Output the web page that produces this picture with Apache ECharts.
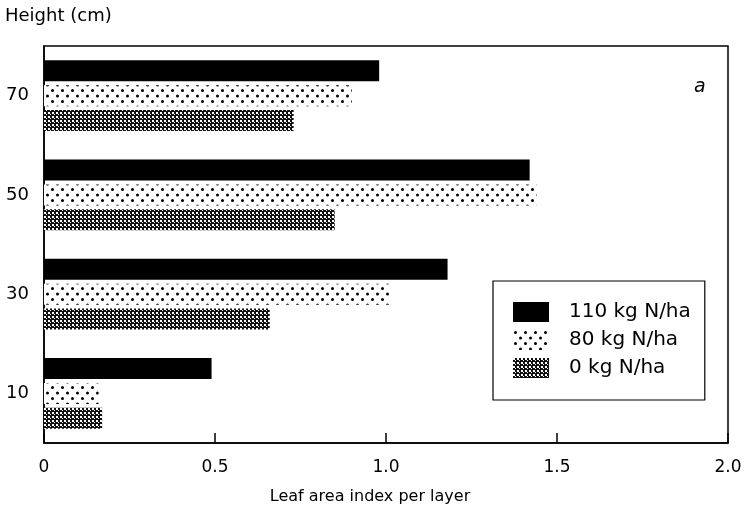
<!DOCTYPE html>
<html>
<head>
<meta charset="utf-8">
<script src="https://cdn.jsdelivr.net/npm/echarts@6/dist/echarts.min.js"></script>
<style>
  html, body { margin: 0; padding: 0; background: #fff; }
  #chart { width: 747px; height: 510px; }
</style>
</head>
<body>
<div id="chart"></div>
<script>
const heights = ['10', '30', '50', '70'];
const n110 = [0.49, 1.18, 1.42, 0.98];
const n80 = [0.16, 1.01, 1.44, 0.90];
const n0 = [0.17, 0.66, 0.85, 0.73];
const xTicks = ['0', '0.5', '1.0', '1.5', '2.0'];

const FONT = '"DejaVu Sans", sans-serif';

// sparse staggered dots
function dotPattern() {
  const c = document.createElement('canvas');
  c.width = 10; c.height = 11;
  const ctx = c.getContext('2d');
  ctx.fillStyle = '#fff';
  ctx.fillRect(0, 0, 10, 11);
  ctx.fillStyle = '#000';
  ctx.beginPath();
  ctx.arc(2.5, 2.5, 1.5, 0, Math.PI * 2);
  ctx.arc(7.5, 8, 1.5, 0, Math.PI * 2);
  ctx.fill();
  return c;
}

// dense dark checker
function checkPattern() {
  const c = document.createElement('canvas');
  c.width = 4; c.height = 4;
  const ctx = c.getContext('2d');
  ctx.fillStyle = '#111';
  ctx.fillRect(0, 0, 4, 4);
  ctx.fillStyle = '#fff';
  ctx.fillRect(0, 0, 2, 2);
  ctx.fillRect(2, 2, 1, 1);
  return c;
}

const chart = echarts.init(document.getElementById('chart'));

const barBase = { type: 'bar', barWidth: 21, barGap: '18%', barCategoryGap: '30%' };

chart.setOption({
  animation: false,
  textStyle: { fontFamily: FONT, color: '#000' },
  grid: {
    left: 44, right: 19, top: 46, bottom: 67,
    show: true, borderColor: '#000', borderWidth: 1.5
  },
  legend: {
    orient: 'vertical',
    left: 493, top: 281,
    padding: [21, 14, 22, 20],
    borderColor: '#000', borderWidth: 1.2,
    itemWidth: 36, itemHeight: 20, itemGap: 8,
    icon: 'rect',
    data: ['110 kg N/ha', '80 kg N/ha', '0 kg N/ha'],
    textStyle: { fontSize: 20, fontFamily: FONT, color: '#000', padding: [0, 0, 0, 15] }
  },
  xAxis: {
    type: 'value',
    min: 0, max: 2, interval: 0.5,
    name: 'Leaf area index per layer',
    nameLocation: 'middle',
    nameGap: 46,
    nameTextStyle: { fontSize: 16, fontFamily: FONT, color: '#000', padding: [0, 32, 0, 0] },
    axisLine: { show: true, lineStyle: { color: '#000', width: 1.5 } },
    axisTick: { show: true, inside: true, length: 10, lineStyle: { color: '#000', width: 1.5 } },
    axisLabel: {
      fontSize: 17, color: '#000', fontFamily: FONT, margin: 16,
      formatter: (v) => xTicks[Math.round(v / 0.5)]
    },
    splitLine: { show: false }
  },
  yAxis: {
    type: 'category',
    data: heights,
    axisLine: { show: true, lineStyle: { color: '#000', width: 1.5 } },
    axisTick: { show: false },
    axisLabel: { fontSize: 18, color: '#000', fontFamily: FONT, margin: 15 },
    splitLine: { show: false }
  },
  graphic: [
    {
      type: 'text', left: 5, top: 7,
      style: { text: 'Height (cm)', fontSize: 18, fontFamily: FONT, fill: '#000' }
    },
    {
      type: 'text', left: 694, top: 78,
      style: { text: 'a', fontSize: 19, fontStyle: 'italic', fontFamily: FONT, fill: '#000' }
    }
  ],
  series: [
    Object.assign({}, barBase, {
      name: '110 kg N/ha', data: n110,
      itemStyle: { color: '#000' }
    }),
    Object.assign({}, barBase, {
      name: '80 kg N/ha', data: n80,
      itemStyle: { color: { image: dotPattern(), repeat: 'repeat' } }
    }),
    Object.assign({}, barBase, {
      name: '0 kg N/ha', data: n0,
      itemStyle: { color: { image: checkPattern(), repeat: 'repeat' } }
    })
  ]
});
</script>
</body>
</html>
